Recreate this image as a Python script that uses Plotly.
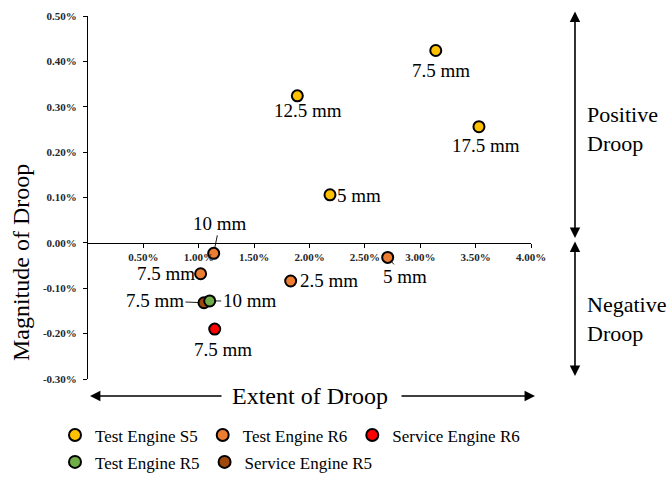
import plotly.graph_objects as go

# ---- data (extent of droop %, magnitude of droop %) ----
s5_x = [3.14, 1.89, 3.53, 2.185]
s5_y = [0.424, 0.324, 0.256, 0.106]
s5_lbl = ["7.5 mm", "12.5 mm", "17.5 mm", "5 mm"]

r6_x = [2.706, 1.83, 1.135, 1.017]
r6_y = [-0.032, -0.084, -0.023, -0.068]
r6_lbl = ["5 mm", "2.5 mm", "10 mm", "7.5 mm"]

svc_r6_x = [1.144]
svc_r6_y = [-0.19]
svc_r6_lbl = ["7.5 mm"]

r5_x = [1.099]
r5_y = [-0.128]
r5_lbl = ["10 mm"]

svc_r5_x = [1.047]
svc_r5_y = [-0.132]
svc_r5_lbl = ["7.5 mm"]

x_ticks = [0.5, 1.0, 1.5, 2.0, 2.5, 3.0, 3.5, 4.0]
x_ticktext = ["0.50%", "1.00%", "1.50%", "2.00%", "2.50%", "3.00%", "3.50%", "4.00%"]
y_ticks = [-0.3, -0.2, -0.1, 0.0, 0.1, 0.2, 0.3, 0.4, 0.5]
y_ticktext = ["-0.30%", "-0.20%", "-0.10%", "0.00%", "0.10%", "0.20%", "0.30%", "0.40%", "0.50%"]

SERIF = "Liberation Serif, Times New Roman, serif"
INK = "#000000"

series = [
    # name, xs, ys, labels, colour, legend row, legend rank
    ("Test Engine S5", s5_x, s5_y, s5_lbl, "#FFC000", "legend", 1),
    ("Test Engine R6", r6_x, r6_y, r6_lbl, "#ED7D31", "legend", 2),
    ("Service Engine R6", svc_r6_x, svc_r6_y, svc_r6_lbl, "#FF0000", "legend", 3),
    ("Service Engine R5", svc_r5_x, svc_r5_y, svc_r5_lbl, "#9E480E", "legend2", 5),
    ("Test Engine R5", r5_x, r5_y, r5_lbl, "#70AD47", "legend2", 4),
]

# label placement per point: (x shift px, y shift px, leader line?)
label_offsets = {
    "Test Engine S5": [(5, 20, False), (11, 15, False), (7, 19, False), (29, 1, False)],
    "Test Engine R6": [(17, 19, True), (38, 0, False), (6, -30, True), (-35, 0, False)],
    "Service Engine R6": [(8, 20, False)],
    "Service Engine R5": [(-49, -2, True)],
    "Test Engine R5": [(40, 0, True)],
}

fig = go.Figure()
annotations = []

for name, xs, ys, labels, colour, leg, rank in series:
    fig.add_trace(go.Scatter(
        x=xs, y=ys, mode="markers", name=name, legend=leg, legendrank=rank,
        marker=dict(size=11, color=colour, line=dict(color=INK, width=2)),
        cliponaxis=False,
    ))
    for (px, py, lead), xv, yv, txt in zip(label_offsets[name], xs, ys, labels):
        if lead:
            annotations.append(dict(
                x=xv, y=yv, xref="x", yref="y", text=txt,
                showarrow=True, arrowhead=0, arrowwidth=0.9, arrowcolor=INK,
                ax=px, ay=py, standoff=6,
                font=dict(family=SERIF, size=19, color=INK),
            ))
        else:
            annotations.append(dict(
                x=xv, y=yv, xref="x", yref="y", text=txt, showarrow=False,
                xshift=px, yshift=-py,
                font=dict(family=SERIF, size=19, color=INK),
            ))

# axis titles
annotations.append(dict(
    x=0.5, y=-0.0468, xref="paper", yref="paper", text="Extent of Droop",
    showarrow=False, font=dict(family=SERIF, size=24, color=INK),
    xanchor="center", yanchor="middle",
))
annotations.append(dict(
    x=-0.151, y=0.3196, xref="paper", yref="paper", text="Magnitude of Droop",
    showarrow=False, textangle=-90, font=dict(family=SERIF, size=24, color=INK),
    xanchor="center", yanchor="middle",
))
# region labels on the right
for txt, yp in [("Positive<br>Droop", 0.6887), ("Negative<br>Droop", 0.1653)]:
    annotations.append(dict(
        x=1.1219, y=yp, xref="paper", yref="paper", text=txt, showarrow=False,
        align="left", xanchor="left", yanchor="middle",
        font=dict(family=SERIF, size=22, color=INK),
    ))

# direction arrows
arrow_style = dict(text="", showarrow=True, arrowhead=2, arrowsize=1.3,
                   arrowwidth=1.6, arrowcolor=INK, standoff=0, startstandoff=0,
                   xref="paper", yref="paper", axref="pixel", ayref="pixel")
annotations.append(dict(arrow_style, x=0.0045, y=-0.0468, ax=133, ay=0))
annotations.append(dict(arrow_style, x=1.009, y=-0.0468, ax=-135, ay=0))
annotations.append(dict(arrow_style, x=1.0993, y=0.3884, ax=0, ay=-228,
                        arrowside="end+start", startarrowhead=2, startarrowsize=1.3))
annotations.append(dict(arrow_style, x=1.0993, y=0.0083, ax=0, ay=-136,
                        arrowside="end+start", startarrowhead=2, startarrowsize=1.3))

tick_font = dict(family=SERIF, size=11, color="#262626", weight="bold")
legend_style = dict(
    orientation="h", x=-0.0745, xanchor="left", yanchor="top",
    itemsizing="constant",
    font=dict(family=SERIF, size=17, color=INK),
    bgcolor="rgba(0,0,0,0)",
)

fig.update_layout(
    width=670, height=477,
    margin=dict(l=88, r=139, t=16, b=98, autoexpand=False),
    paper_bgcolor="white", plot_bgcolor="white",
    showlegend=True,
    legend=dict(legend_style, y=-0.106),
    legend2=dict(legend_style, y=-0.180),
    xaxis=dict(
        range=[0, 4], anchor="free", position=0.375,
        tickvals=x_ticks, ticktext=x_ticktext,
        showline=True, linecolor=INK, linewidth=1,
        ticks="outside", ticklen=4, tickcolor=INK, tickwidth=1,
        showgrid=False, zeroline=False, tickfont=tick_font,
    ),
    yaxis=dict(
        range=[-0.3, 0.5],
        tickvals=y_ticks, ticktext=y_ticktext,
        showline=True, linecolor=INK, linewidth=1,
        ticks="outside", ticklen=4, tickcolor=INK, tickwidth=1,
        showgrid=False, zeroline=False, tickfont=tick_font,
        ticklabelstandoff=4,
    ),
    annotations=annotations,
)

fig.write_html("out.html")
